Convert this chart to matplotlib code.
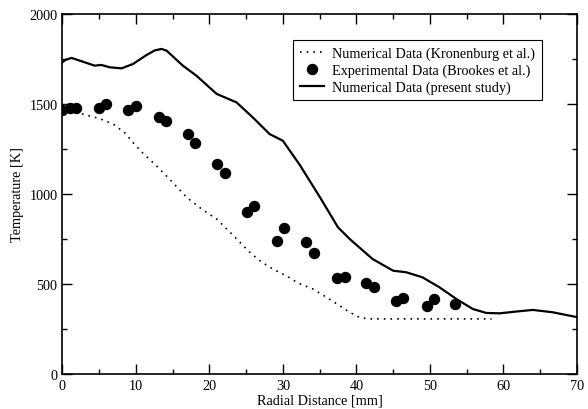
import numpy as np
import matplotlib.pyplot as plt
from matplotlib.ticker import MultipleLocator

plt.rcParams['font.family'] = ['Liberation Serif', 'DejaVu Serif']
plt.rcParams['mathtext.fontset'] = 'stix'

# Experimental data (Brookes et al.)
exp_r = [0.0, 1.0, 1.9, 5.0, 6.0, 8.9, 10.0, 13.1, 14.1, 17.1, 18.0, 21.1, 22.2,
         25.1, 26.1, 29.25, 30.15, 33.2, 34.3, 37.35, 38.4, 41.35, 42.4,
         45.4, 46.4, 49.55, 50.6, 53.4]
exp_T = [1468, 1478, 1478, 1478, 1500, 1467, 1489, 1428, 1407, 1335, 1282, 1167, 1115,
         902, 932, 739, 813, 731, 670, 532, 537, 504, 483,
         406, 424, 380, 417, 391]

# Numerical data (Kronenburg et al.)
kron_r = [0.0, 1.5, 2.8, 5.0, 6.9, 8.5, 9.6, 11.0, 12.8, 15.0, 16.9, 19.0, 21.0,
          23.0, 25.5, 27.0, 28.65, 30.5, 32.05, 34.1, 36.0, 37.7, 39.0, 40.4, 41.6,
          45.0, 50.0, 55.0, 58.4]
kron_T = [1465, 1458, 1444, 1420, 1389, 1340, 1287, 1225, 1157, 1065, 982, 915, 861,
          780, 676, 625, 583, 545, 506, 472, 425, 380, 345, 315, 306,
          306, 306, 306, 306]

# Numerical data (present study)
num_r = [0.0, 0.4, 1.25, 2.8, 4.4, 5.3, 6.45, 8.05, 9.6, 11.45, 12.6, 13.5, 14.2, 16.4,
         18.25, 19.8, 21.0, 23.7, 25.9, 28.2, 30.0, 32.3, 35.2, 37.5, 39.1, 42.2, 45.0,
         46.8, 49.0, 51.3, 53.6, 55.85, 57.7, 59.5, 62.0, 64.0, 66.7, 70.0]
num_T = [1731, 1745, 1756, 1735, 1713, 1717, 1704, 1698, 1722, 1772, 1798, 1806, 1796, 1713,
         1657, 1600, 1556, 1509, 1426, 1333, 1296, 1162, 972, 815, 750, 639, 574,
         565, 537, 482, 417, 361, 339, 337, 348, 356, 343, 316]

fig = plt.figure(figsize=(5.88, 4.10), dpi=100)
ax = fig.add_axes([0.106, 0.0854, 0.875, 0.878])

ax.plot(kron_r, kron_T, color='black', lw=1.2, linestyle=(0, (1, 3)),
        label='Numerical Data (Kronenburg et al.)')
ax.plot(exp_r, exp_T, 'o', color='black', ms=7.2, label='Experimental Data (Brookes et al.)')
ax.plot(num_r, num_T, color='black', lw=1.6, label='Numerical Data (present study)')

ax.set_xlim(0, 70)
ax.set_ylim(0, 2000)
ax.xaxis.set_major_locator(MultipleLocator(10))
ax.xaxis.set_minor_locator(MultipleLocator(5))
ax.yaxis.set_major_locator(MultipleLocator(500))
ax.yaxis.set_minor_locator(MultipleLocator(250))
ax.tick_params(which='both', direction='in', top=True, right=True, labelsize=10.3)
ax.tick_params(which='major', length=7, width=1)
ax.tick_params(which='minor', length=3.5, width=1)
for s in ax.spines.values():
    s.set_linewidth(1.2)

ax.set_xlabel('Radial Distance [mm]', fontsize=10.3, labelpad=1)
ax.set_ylabel('Temperature [K]', fontsize=10.3, labelpad=4)

leg = ax.legend(loc='upper right', bbox_to_anchor=(0.932, 0.928), borderaxespad=0,
                fontsize=10.3, fancybox=False, framealpha=1, edgecolor='black',
                handlelength=1.7, handletextpad=0.6, borderpad=0.45, labelspacing=0.25)
leg.get_frame().set_linewidth(0.8)

fig.savefig('out.png', dpi=100)
